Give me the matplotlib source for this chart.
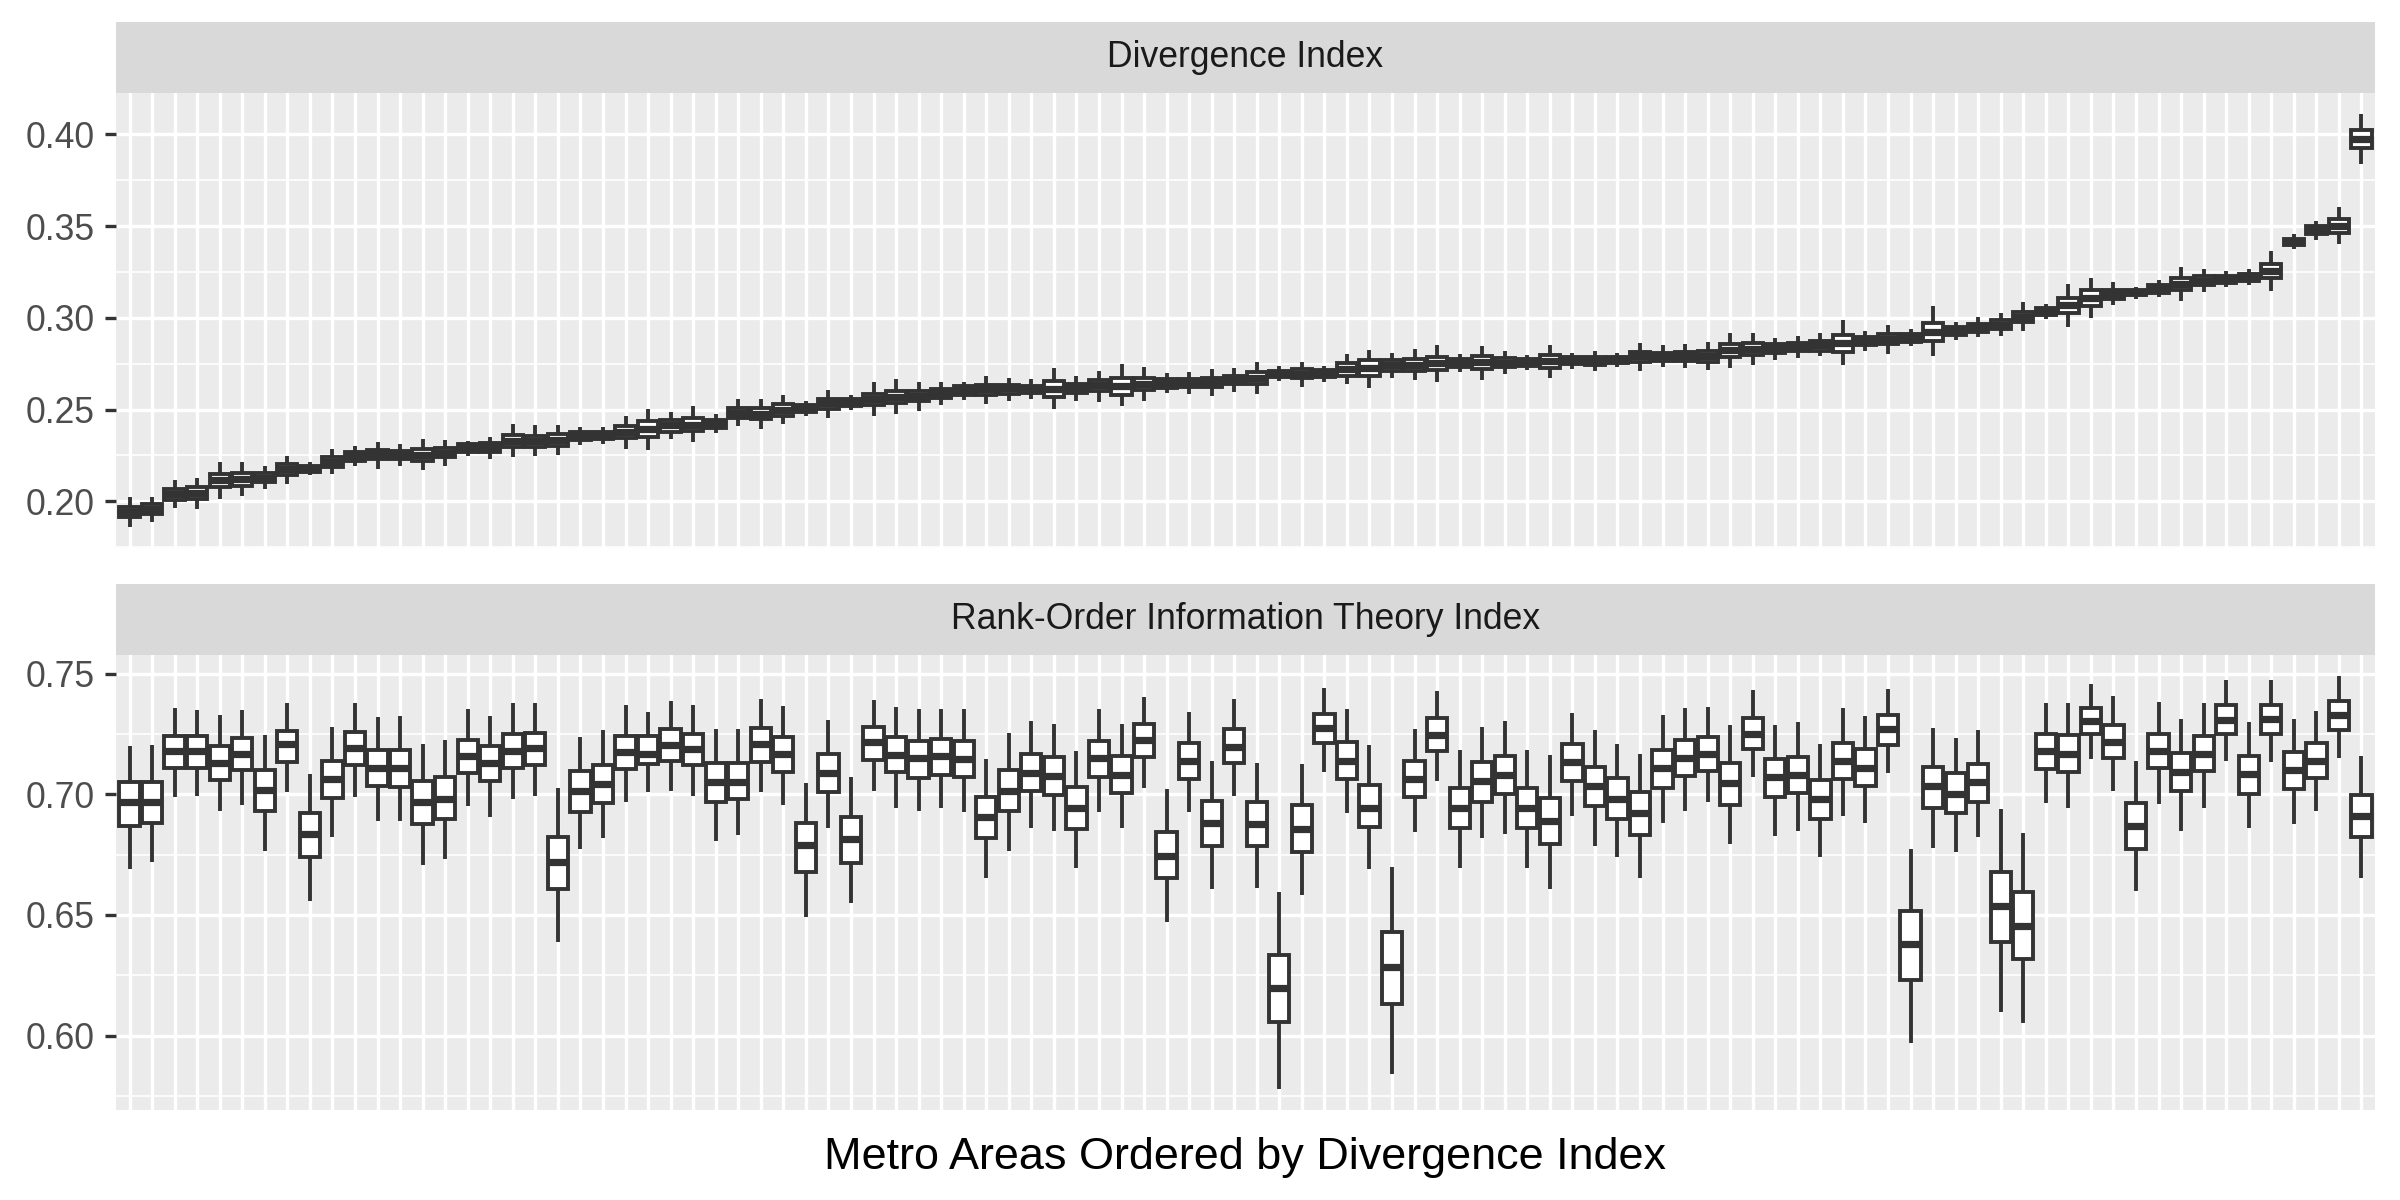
import matplotlib
matplotlib.use("Agg")
import matplotlib.pyplot as plt
from matplotlib.ticker import FixedLocator, FormatStrFormatter, NullFormatter

plt.rcParams['font.family'] = ['Liberation Sans', 'DejaVu Sans']

# ---------------- data ----------------
metro_rank = list(range(1, 101))   # metro areas ordered by divergence index

panel_titles = ["Divergence Index", "Rank-Order Information Theory Index"]

div_hi = [0.2024, 0.2024, 0.2118, 0.2129, 0.2215, 0.2215, 0.2193, 0.2247, 0.2215, 0.2287,
          0.2302, 0.2324, 0.2315, 0.2342, 0.2336, 0.2329, 0.2351, 0.2424, 0.2415, 0.2415,
          0.2405, 0.2405, 0.2465, 0.2505, 0.2487, 0.2520, 0.2474, 0.2555, 0.2560, 0.2582,
          0.2547, 0.2609, 0.2582, 0.2648, 0.2664, 0.2651, 0.2651, 0.2651, 0.2684, 0.2673,
          0.2664, 0.2724, 0.2684, 0.2712, 0.2746, 0.2734, 0.2697, 0.2703, 0.2719, 0.2724,
          0.2759, 0.2735, 0.2759, 0.2735, 0.2803, 0.2825, 0.2808, 0.2830, 0.2850, 0.2803,
          0.2845, 0.2817, 0.2796, 0.2850, 0.2808, 0.2817, 0.2808, 0.2863, 0.2850, 0.2858,
          0.2869, 0.2918, 0.2918, 0.2890, 0.2900, 0.2917, 0.2986, 0.2926, 0.2958, 0.2938,
          0.3062, 0.2975, 0.3002, 0.3025, 0.3085, 0.3076, 0.3183, 0.3219, 0.3194, 0.3170,
          0.3207, 0.3274, 0.3266, 0.3255, 0.3266, 0.3366, 0.3455, 0.3529, 0.3601, 0.4112]
div_q3 = [0.1971, 0.1984, 0.2067, 0.2078, 0.2147, 0.2153, 0.2153, 0.2202, 0.2193, 0.2240,
          0.2267, 0.2280, 0.2275, 0.2284, 0.2289, 0.2311, 0.2316, 0.2362, 0.2358, 0.2365,
          0.2376, 0.2376, 0.2411, 0.2438, 0.2444, 0.2453, 0.2443, 0.2507, 0.2507, 0.2531,
          0.2526, 0.2558, 0.2558, 0.2586, 0.2600, 0.2600, 0.2611, 0.2626, 0.2635, 0.2635,
          0.2630, 0.2653, 0.2639, 0.2662, 0.2670, 0.2672, 0.2664, 0.2668, 0.2672, 0.2684,
          0.2704, 0.2710, 0.2719, 0.2714, 0.2755, 0.2768, 0.2768, 0.2774, 0.2786, 0.2774,
          0.2792, 0.2779, 0.2774, 0.2796, 0.2786, 0.2788, 0.2786, 0.2816, 0.2810, 0.2814,
          0.2819, 0.2856, 0.2861, 0.2856, 0.2865, 0.2873, 0.2904, 0.2893, 0.2913, 0.2909,
          0.2973, 0.2949, 0.2967, 0.2986, 0.3031, 0.3053, 0.3109, 0.3149, 0.3150, 0.3152,
          0.3176, 0.3217, 0.3226, 0.3230, 0.3239, 0.3293, 0.3431, 0.3498, 0.3538, 0.4024]
div_med = [0.1942, 0.1958, 0.2038, 0.2045, 0.2115, 0.2120, 0.2129, 0.2175, 0.2178, 0.2215,
           0.2245, 0.2256, 0.2255, 0.2255, 0.2264, 0.2291, 0.2296, 0.2329, 0.2329, 0.2333,
           0.2356, 0.2358, 0.2378, 0.2393, 0.2415, 0.2418, 0.2422, 0.2482, 0.2478, 0.2500,
           0.2505, 0.2533, 0.2542, 0.2557, 0.2569, 0.2575, 0.2588, 0.2604, 0.2611, 0.2615,
           0.2611, 0.2613, 0.2615, 0.2633, 0.2628, 0.2641, 0.2644, 0.2646, 0.2648, 0.2661,
           0.2672, 0.2693, 0.2693, 0.2695, 0.2721, 0.2726, 0.2741, 0.2745, 0.2752, 0.2752,
           0.2757, 0.2754, 0.2757, 0.2763, 0.2768, 0.2768, 0.2770, 0.2790, 0.2788, 0.2790,
           0.2794, 0.2827, 0.2832, 0.2836, 0.2845, 0.2850, 0.2862, 0.2871, 0.2886, 0.2890,
           0.2924, 0.2928, 0.2947, 0.2962, 0.3005, 0.3034, 0.3067, 0.3107, 0.3129, 0.3138,
           0.3156, 0.3185, 0.3203, 0.3210, 0.3219, 0.3254, 0.3415, 0.3476, 0.3500, 0.3976]
div_q1 = [0.1913, 0.1931, 0.2009, 0.2013, 0.2076, 0.2085, 0.2104, 0.2145, 0.2162, 0.2189,
          0.2222, 0.2231, 0.2231, 0.2222, 0.2240, 0.2267, 0.2271, 0.2295, 0.2298, 0.2304,
          0.2336, 0.2340, 0.2344, 0.2351, 0.2380, 0.2385, 0.2400, 0.2454, 0.2449, 0.2467,
          0.2485, 0.2504, 0.2522, 0.2527, 0.2535, 0.2549, 0.2564, 0.2580, 0.2577, 0.2586,
          0.2589, 0.2569, 0.2589, 0.2600, 0.2582, 0.2604, 0.2620, 0.2622, 0.2622, 0.2641,
          0.2639, 0.2675, 0.2670, 0.2675, 0.2682, 0.2681, 0.2712, 0.2712, 0.2715, 0.2730,
          0.2721, 0.2730, 0.2739, 0.2724, 0.2748, 0.2743, 0.2752, 0.2761, 0.2766, 0.2766,
          0.2761, 0.2788, 0.2797, 0.2810, 0.2821, 0.2821, 0.2815, 0.2851, 0.2857, 0.2870,
          0.2871, 0.2906, 0.2924, 0.2938, 0.2975, 0.3014, 0.3024, 0.3065, 0.3105, 0.3123,
          0.3136, 0.3150, 0.3178, 0.3190, 0.3199, 0.3214, 0.3399, 0.3455, 0.3464, 0.3926]
div_lo = [0.1860, 0.1887, 0.1964, 0.1956, 0.2015, 0.2027, 0.2065, 0.2093, 0.2142, 0.2147,
          0.2191, 0.2178, 0.2191, 0.2169, 0.2191, 0.2245, 0.2233, 0.2242, 0.2247, 0.2251,
          0.2305, 0.2315, 0.2287, 0.2278, 0.2338, 0.2323, 0.2372, 0.2409, 0.2396, 0.2423,
          0.2464, 0.2456, 0.2496, 0.2464, 0.2474, 0.2491, 0.2524, 0.2551, 0.2529, 0.2546,
          0.2557, 0.2502, 0.2546, 0.2542, 0.2520, 0.2546, 0.2591, 0.2584, 0.2575, 0.2597,
          0.2586, 0.2653, 0.2624, 0.2648, 0.2641, 0.2617, 0.2672, 0.2662, 0.2650, 0.2703,
          0.2662, 0.2695, 0.2717, 0.2672, 0.2723, 0.2712, 0.2730, 0.2712, 0.2730, 0.2726,
          0.2717, 0.2726, 0.2745, 0.2772, 0.2781, 0.2790, 0.2745, 0.2817, 0.2804, 0.2844,
          0.2790, 0.2877, 0.2893, 0.2902, 0.2929, 0.2995, 0.2949, 0.2998, 0.3071, 0.3103,
          0.3111, 0.3092, 0.3143, 0.3170, 0.3179, 0.3147, 0.3375, 0.3424, 0.3402, 0.3837]

rank_hi = [0.7200, 0.7205, 0.7360, 0.7350, 0.7330, 0.7350, 0.7247, 0.7378, 0.7085, 0.7279,
           0.7378, 0.7320, 0.7324, 0.7208, 0.7225, 0.7353, 0.7324, 0.7378, 0.7378, 0.7026,
           0.7237, 0.7265, 0.7369, 0.7341, 0.7385, 0.7371, 0.7272, 0.7272, 0.7396, 0.7367,
           0.7046, 0.7309, 0.7071, 0.7392, 0.7362, 0.7355, 0.7355, 0.7355, 0.7146, 0.7254,
           0.7305, 0.7291, 0.7180, 0.7355, 0.7291, 0.7403, 0.7021, 0.7341, 0.7139, 0.7396,
           0.7129, 0.6594, 0.7125, 0.7441, 0.7355, 0.7205, 0.6698, 0.7270, 0.7429, 0.7185,
           0.7279, 0.7305, 0.7185, 0.7164, 0.7337, 0.7266, 0.7208, 0.7167, 0.7328, 0.7358,
           0.7362, 0.7286, 0.7432, 0.7286, 0.7299, 0.7208, 0.7358, 0.7324, 0.7436, 0.6772,
           0.7275, 0.7233, 0.7265, 0.6938, 0.6839, 0.7378, 0.7378, 0.7457, 0.7407, 0.7139,
           0.7382, 0.7313, 0.7378, 0.7475, 0.7299, 0.7475, 0.7313, 0.7346, 0.7492, 0.7160]
rank_q3 = [0.7050, 0.7053, 0.7240, 0.7240, 0.7200, 0.7233, 0.7100, 0.7262, 0.6922, 0.7140,
           0.7260, 0.7185, 0.7185, 0.7057, 0.7070, 0.7226, 0.7200, 0.7251, 0.7255, 0.6825,
           0.7095, 0.7122, 0.7240, 0.7240, 0.7269, 0.7252, 0.7132, 0.7132, 0.7275, 0.7239,
           0.6880, 0.7167, 0.6905, 0.7280, 0.7239, 0.7222, 0.7229, 0.7222, 0.6991, 0.7099,
           0.7168, 0.7154, 0.7030, 0.7222, 0.7157, 0.7290, 0.6842, 0.7212, 0.6974, 0.7272,
           0.6970, 0.6334, 0.6954, 0.7334, 0.7215, 0.7039, 0.6431, 0.7139, 0.7316, 0.7026,
           0.7136, 0.7160, 0.7028, 0.6984, 0.7208, 0.7115, 0.7067, 0.7009, 0.7185, 0.7226,
           0.7239, 0.7129, 0.7316, 0.7146, 0.7154, 0.7060, 0.7212, 0.7186, 0.7330, 0.6517,
           0.7115, 0.7088, 0.7127, 0.6680, 0.6594, 0.7251, 0.7244, 0.7358, 0.7286, 0.6963,
           0.7251, 0.7171, 0.7240, 0.7369, 0.7161, 0.7369, 0.7175, 0.7212, 0.7389, 0.6998]
rank_med = [0.6970, 0.6970, 0.7180, 0.7180, 0.7130, 0.7168, 0.7019, 0.7210, 0.6836, 0.7064,
            0.7192, 0.7109, 0.7109, 0.6970, 0.6981, 0.7157, 0.7129, 0.7180, 0.7192, 0.6721,
            0.7015, 0.7042, 0.7175, 0.7168, 0.7205, 0.7187, 0.7053, 0.7053, 0.7208, 0.7167,
            0.6790, 0.7088, 0.6814, 0.7216, 0.7164, 0.7150, 0.7157, 0.7147, 0.6904, 0.7012,
            0.7088, 0.7074, 0.6943, 0.7150, 0.7081, 0.7225, 0.6746, 0.7139, 0.6883, 0.7198,
            0.6878, 0.6198, 0.6857, 0.7275, 0.7139, 0.6945, 0.6283, 0.7064, 0.7247, 0.6943,
            0.7056, 0.7081, 0.6943, 0.6891, 0.7133, 0.7033, 0.6980, 0.6922, 0.7109, 0.7150,
            0.7167, 0.7046, 0.7251, 0.7070, 0.7081, 0.6981, 0.7139, 0.7111, 0.7272, 0.6378,
            0.7033, 0.7002, 0.7050, 0.6539, 0.6456, 0.7178, 0.7167, 0.7305, 0.7216, 0.6869,
            0.7181, 0.7091, 0.7168, 0.7309, 0.7084, 0.7313, 0.7099, 0.7139, 0.7330, 0.6911]
rank_q1 = [0.6870, 0.6880, 0.7110, 0.7110, 0.7060, 0.7100, 0.6932, 0.7136, 0.6742, 0.6984,
           0.7122, 0.7035, 0.7030, 0.6876, 0.6897, 0.7088, 0.7056, 0.7110, 0.7122, 0.6607,
           0.6927, 0.6963, 0.7104, 0.7125, 0.7139, 0.7122, 0.6970, 0.6980, 0.7136, 0.7092,
           0.6680, 0.7008, 0.6714, 0.7143, 0.7091, 0.7067, 0.7081, 0.7070, 0.6818, 0.6932,
           0.7012, 0.6998, 0.6857, 0.7070, 0.7005, 0.7153, 0.6652, 0.7063, 0.6784, 0.7132,
           0.6786, 0.6057, 0.6759, 0.7212, 0.7063, 0.6864, 0.6129, 0.6987, 0.7178, 0.6860,
           0.6970, 0.7001, 0.6860, 0.6793, 0.7056, 0.6950, 0.6898, 0.6832, 0.7026, 0.7074,
           0.7098, 0.6954, 0.7187, 0.6987, 0.7005, 0.6897, 0.7064, 0.7035, 0.7205, 0.6230,
           0.6943, 0.6922, 0.6970, 0.6389, 0.6316, 0.7104, 0.7092, 0.7250, 0.7150, 0.6774,
           0.7109, 0.7012, 0.7095, 0.7250, 0.7001, 0.7251, 0.7023, 0.7067, 0.7266, 0.6825]
rank_lo = [0.6690, 0.6720, 0.6990, 0.6995, 0.6930, 0.6956, 0.6766, 0.7008, 0.6559, 0.6825,
           0.6990, 0.6891, 0.6891, 0.6707, 0.6732, 0.6952, 0.6907, 0.6979, 0.6994, 0.6387,
           0.6772, 0.6818, 0.6970, 0.7008, 0.7015, 0.6995, 0.6808, 0.6832, 0.7008, 0.6954,
           0.6493, 0.6862, 0.6548, 0.7012, 0.6945, 0.6929, 0.6945, 0.6925, 0.6652, 0.6767,
           0.6860, 0.6850, 0.6694, 0.6925, 0.6860, 0.7028, 0.6470, 0.6925, 0.6606, 0.6995,
           0.6613, 0.5777, 0.6583, 0.7092, 0.6922, 0.6689, 0.5839, 0.6842, 0.7057, 0.6696,
           0.6818, 0.6836, 0.6694, 0.6606, 0.6912, 0.6784, 0.6739, 0.6652, 0.6880, 0.6932,
           0.6967, 0.6793, 0.7070, 0.6829, 0.6850, 0.6739, 0.6912, 0.6883, 0.7088, 0.5968,
           0.6777, 0.6759, 0.6825, 0.6099, 0.6053, 0.6966, 0.6945, 0.7147, 0.7015, 0.6600,
           0.6961, 0.6850, 0.6945, 0.7139, 0.6860, 0.7136, 0.6876, 0.6933, 0.7149, 0.6655]

div_ticks = [0.20, 0.25, 0.30, 0.35, 0.40]
rank_ticks = [0.60, 0.65, 0.70, 0.75]

# ---------------- layout ----------------
FW, FH = 2400, 1200
fig = plt.figure(figsize=(12, 6), dpi=200)
fig.patch.set_facecolor('white')

left_px, right_px = 116, 2375
def add_px_axes(top, bottom):
    return fig.add_axes([left_px / FW, 1 - bottom / FH,
                         (right_px - left_px) / FW, (bottom - top) / FH])

DARK = '#333333'
LW = 1.4

panels = [
    (panel_titles[0], (div_lo, div_q1, div_med, div_q3, div_hi), div_ticks, (22, 93), (93, 547.7)),
    (panel_titles[1], (rank_lo, rank_q1, rank_med, rank_q3, rank_hi), rank_ticks, (584, 655), (655, 1110)),
]

positions = [r - 1 for r in metro_rank]

for title, (lo, q1, med, q3, hi), ticks, (st, sb), (pt, pb) in panels:
    # strip
    sax = add_px_axes(st, sb)
    sax.set_facecolor('#D9D9D9')
    sax.set_xticks([]); sax.set_yticks([])
    for s in sax.spines.values():
        s.set_visible(False)
    sax.text(0.5, 0.5, title, ha='center', va='center', fontsize=12.8,
             color='#1A1A1A', transform=sax.transAxes)

    # panel
    ax = add_px_axes(pt, pb)
    ax.set_facecolor('#EBEBEB')
    for s in ax.spines.values():
        s.set_visible(False)
    stats = [dict(whislo=a, q1=b, med=c, q3=d, whishi=e)
             for a, b, c, d, e in zip(lo, q1, med, q3, hi)]
    ax.bxp(stats, positions=positions, widths=0.9, showcaps=False, showfliers=False,
           patch_artist=True,
           boxprops=dict(facecolor='white', edgecolor=DARK, linewidth=LW),
           whiskerprops=dict(color=DARK, linewidth=LW, solid_capstyle='butt'),
           medianprops=dict(color=DARK, linewidth=2.6, solid_capstyle='butt'),
           manage_ticks=False, zorder=3)

    ymin, ymax = min(lo), max(hi)
    rng = ymax - ymin
    ax.set_ylim(ymin - 0.05 * rng, ymax + 0.05 * rng)
    ax.set_xlim(-0.6, len(metro_rank) - 0.4)

    ax.xaxis.set_major_locator(FixedLocator(positions))
    ax.xaxis.set_major_formatter(NullFormatter())
    ax.tick_params(axis='x', which='both', length=0)

    ax.yaxis.set_major_locator(FixedLocator(ticks))
    minor = [t + 0.025 for t in ticks] + [ticks[0] - 0.025]
    ax.yaxis.set_minor_locator(FixedLocator(minor))
    ax.yaxis.set_major_formatter(FormatStrFormatter('%.2f'))
    ax.tick_params(axis='y', which='major', length=4.1, width=1.2, color=DARK,
                   labelsize=12.8, labelcolor='#4D4D4D', pad=3.5)
    ax.tick_params(axis='y', which='minor', length=0)

    ax.set_axisbelow(True)
    ax.grid(True, which='major', axis='both', color='white', linewidth=1.2)
    ax.grid(True, which='minor', axis='y', color='white', linewidth=0.6)

fig.text((left_px + right_px) / 2 / FW, 1 - 1169.5 / FH,
         "Metro Areas Ordered by Divergence Index",
         ha='center', va='baseline', fontsize=16.2, color='black')

fig.savefig('out.png', dpi=200, facecolor='white')
